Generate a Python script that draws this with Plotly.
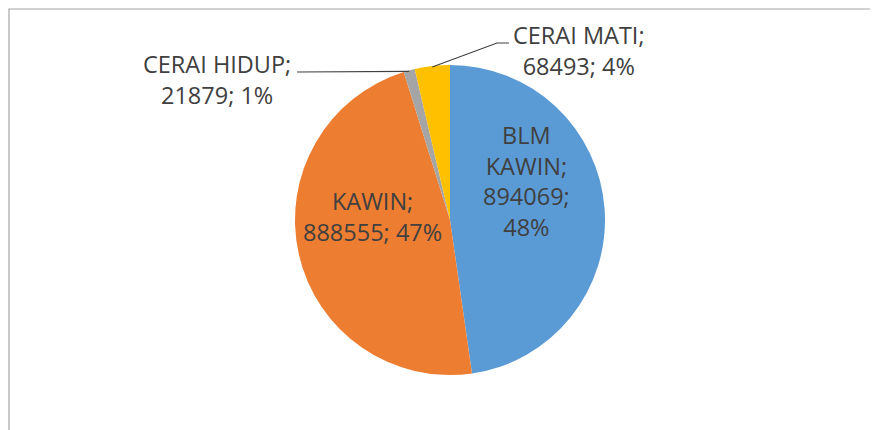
import math
import plotly.graph_objects as go

# ---- data ----
categories = ["BLM KAWIN", "KAWIN", "CERAI HIDUP", "CERAI MATI"]
values = [894069, 888555, 21879, 68493]
colors = ["#5B9BD5", "#ED7D31", "#A5A5A5", "#FFC000"]

W, H = 878, 430
OFF = 8  # page body margin offset
total = sum(values)
pcts = [round(v / total * 100) for v in values]

def px_(x):
    return (x - OFF) / W

def py_(y):
    return 1 - (y - OFF) / H

# pie geometry (screen pixels)
cx, cy, R = 450, 220, 155

fig = go.Figure(go.Pie(
    labels=categories, values=values, sort=False, direction="clockwise",
    rotation=0, marker=dict(colors=colors, line=dict(width=0)),
    textinfo="none", hoverinfo="label+value+percent", showlegend=False,
    domain=dict(x=[px_(cx - R), px_(cx + R)], y=[py_(cy + R), py_(cy - R)]),
))

texts = [
    f"BLM<br>KAWIN;<br>{values[0]};<br>{pcts[0]}%",
    f"KAWIN;<br>{values[1]}; {pcts[1]}%",
    f"CERAI HIDUP;<br>{values[2]}; {pcts[2]}%",
    f"CERAI MATI;<br>{values[3]}; {pcts[3]}%",
]
label_pos = [(526, 181), (372, 216), (217, 79), (579, 50)]

font = dict(family="Open Sans", size=23.5, color="#404040")
for t, (x, y) in zip(texts, label_pos):
    fig.add_annotation(x=px_(x), y=py_(y), xref="paper", yref="paper",
                       text=t, showarrow=False, xanchor="center", yanchor="middle",
                       font=font, align="center")

# leader lines to slice edges, anchor computed from data
def edge_point(i, r=R):
    start = sum(values[:i]) / total * 360
    mid = start + values[i] / total * 360 / 2
    a = math.radians(mid)
    return cx + r * math.sin(a), cy - r * math.cos(a)

def pth(points):
    return "M " + " L ".join(f"{px_(x):.5f},{py_(y):.5f}" for x, y in points)

ex, ey = edge_point(2)
fig.add_shape(type="path", xref="paper", yref="paper",
              path=pth([(297, 72), (ex, ey + 1)]), line=dict(color="#404040", width=1.2))
ex, ey = edge_point(3)
fig.add_shape(type="path", xref="paper", yref="paper",
              path=pth([(509, 43), (497, 43), (ex, ey + 1)]), line=dict(color="#404040", width=1.2))

# outer chart frame (partially cropped)
fig.add_shape(type="rect", xref="paper", yref="paper",
              x0=px_(9), x1=1.05, y0=-0.05, y1=py_(9),
              line=dict(color="#a6a6a6", width=1.2), fillcolor="rgba(0,0,0,0)")

fig.update_layout(width=W, height=H, margin=dict(l=0, r=0, t=0, b=0),
                  paper_bgcolor="white", plot_bgcolor="white")
fig.write_html("out.html")
